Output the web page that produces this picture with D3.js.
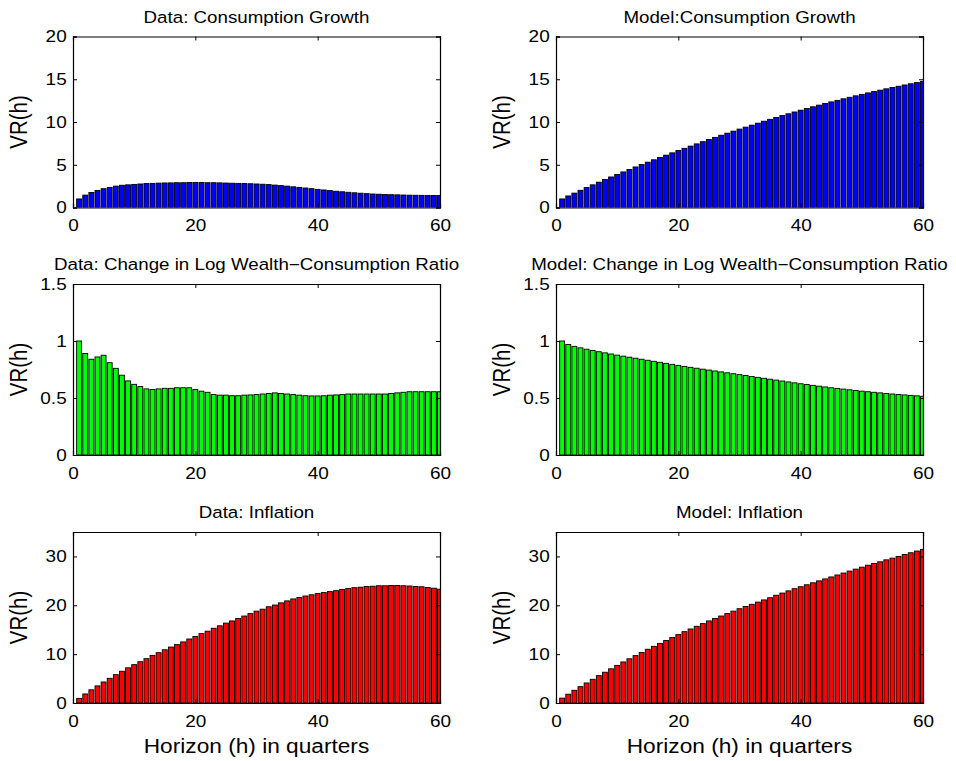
<!DOCTYPE html>
<html>
<head>
<meta charset="utf-8">
<title>Variance ratios</title>
<script src="https://d3js.org/d3.v7.min.js"></script>
<style>
  body { margin: 0; background: #fff; }
  svg text { font-family: "Liberation Sans", Arial, Helvetica, sans-serif; fill: #000; }
  .tick-label { font-size: 16.5px; }
  .title { font-size: 16.3px; text-anchor: middle; }
  .axis-label { font-size: 21px; text-anchor: middle; }
  .y-label { font-size: 20.5px; text-anchor: middle; }
</style>
</head>
<body>
<div id="chart"></div>
<script>
// horizons 1..60 (quarters)
var horizons = d3.range(1, 61);

var dataConsumption = [1.00, 1.45, 1.75, 2.00, 2.20, 2.35, 2.50, 2.60, 2.65, 2.70,
  2.75, 2.80, 2.82, 2.85, 2.87, 2.88, 2.90, 2.90, 2.92, 2.92,
  2.92, 2.90, 2.90, 2.88, 2.86, 2.84, 2.82, 2.80, 2.78, 2.75,
  2.72, 2.68, 2.62, 2.56, 2.50, 2.42, 2.35, 2.28, 2.20, 2.12,
  2.05, 1.98, 1.90, 1.84, 1.78, 1.72, 1.67, 1.62, 1.58, 1.55,
  1.52, 1.50, 1.48, 1.46, 1.44, 1.43, 1.42, 1.41, 1.40, 1.40];

var modelConsumption = [1.00, 1.35, 1.68, 2.01, 2.33, 2.65, 2.96, 3.27, 3.57, 3.87,
  4.16, 4.45, 4.74, 5.02, 5.30, 5.58, 5.85, 6.12, 6.39, 6.66,
  6.92, 7.18, 7.44, 7.70, 7.95, 8.20, 8.45, 8.69, 8.93, 9.17,
  9.40, 9.63, 9.86, 10.09, 10.31, 10.53, 10.75, 10.96, 11.17, 11.38,
  11.58, 11.78, 11.97, 12.16, 12.35, 12.53, 12.71, 12.89, 13.06, 13.23,
  13.40, 13.56, 13.72, 13.88, 14.03, 14.18, 14.33, 14.47, 14.61, 14.75];

var dataWealth = [1.00, 0.89, 0.84, 0.86, 0.875, 0.81, 0.76, 0.70, 0.65, 0.62,
  0.60, 0.58, 0.575, 0.58, 0.585, 0.585, 0.59, 0.59, 0.59, 0.575,
  0.56, 0.55, 0.53, 0.525, 0.525, 0.52, 0.52, 0.525, 0.527, 0.53,
  0.535, 0.54, 0.545, 0.54, 0.535, 0.53, 0.525, 0.52, 0.518, 0.518,
  0.52, 0.525, 0.527, 0.53, 0.535, 0.535, 0.535, 0.535, 0.535, 0.535,
  0.535, 0.54, 0.545, 0.55, 0.555, 0.555, 0.555, 0.555, 0.555, 0.555];

var modelWealth = [1.00, 0.97, 0.953, 0.94, 0.928, 0.917, 0.906, 0.896, 0.886, 0.876,
  0.867, 0.858, 0.849, 0.84, 0.831, 0.822, 0.813, 0.804, 0.795, 0.786,
  0.777, 0.769, 0.761, 0.753, 0.745, 0.737, 0.729, 0.721, 0.713, 0.705,
  0.697, 0.689, 0.681, 0.673, 0.665, 0.657, 0.649, 0.641, 0.633, 0.625,
  0.618, 0.611, 0.604, 0.597, 0.590, 0.584, 0.578, 0.572, 0.566, 0.560,
  0.555, 0.550, 0.545, 0.540, 0.535, 0.531, 0.527, 0.523, 0.519, 0.515];

var dataInflation = [0.95, 1.85, 2.7, 3.5, 4.3, 5.05, 5.8, 6.5, 7.2, 7.85,
  8.45, 9.07, 9.75, 10.3, 10.9, 11.45, 11.95, 12.5, 13.1, 13.6,
  14.2, 14.7, 15.3, 15.8, 16.35, 16.8, 17.3, 17.8, 18.3, 18.8,
  19.2, 19.7, 20.05, 20.5, 20.9, 21.3, 21.6, 21.9, 22.15, 22.4,
  22.6, 22.8, 23.0, 23.25, 23.45, 23.6, 23.7, 23.85, 23.9, 24.0,
  24.0, 24.05, 24.05, 24.0, 23.95, 23.85, 23.8, 23.65, 23.5, 23.3];

var modelInflation = [1.0, 1.8, 2.6, 3.35, 4.1, 4.85, 5.6, 6.3, 7.0, 7.7,
  8.4, 9.05, 9.7, 10.35, 11.0, 11.6, 12.2, 12.8, 13.4, 14.0,
  14.6, 15.15, 15.7, 16.25, 16.8, 17.3, 17.8, 18.3, 18.8, 19.3,
  19.75, 20.2, 20.65, 21.1, 21.55, 22.05, 22.5, 22.95, 23.4, 23.8,
  24.2, 24.6, 25.0, 25.4, 25.8, 26.2, 26.6, 27.0, 27.4, 27.8,
  28.2, 28.55, 28.9, 29.3, 29.65, 30.0, 30.4, 30.75, 31.1, 31.45];

var titles = ["Data: Consumption Growth", "Model:Consumption Growth",
  "Data: Change in Log Wealth\u2212Consumption Ratio", "Model: Change in Log Wealth\u2212Consumption Ratio",
  "Data: Inflation", "Model: Inflation"];
var series = [dataConsumption, modelConsumption, dataWealth, modelWealth, dataInflation, modelInflation];
var yMax = [20, 20, 1.5, 1.5, 35, 35];
var yTicks = [[0, 5, 10, 15, 20], [0, 5, 10, 15, 20], [0, 0.5, 1, 1.5], [0, 0.5, 1, 1.5],
  [0, 10, 20, 30], [0, 10, 20, 30]];
var xTicks = [0, 20, 40, 60];
var colors = ["#0000ff", "#0000ff", "#00ff00", "#00ff00", "#ff0000", "#ff0000"];

var W = 956, H = 761;
var colX = [73, 556], rowY = [36.5, 284, 532];
var pw = 367, ph = 171, tickLen = 4;
var sx = 1.15; // the original figure text is a bit wider than Arial

var svg = d3.select("#chart").append("svg")
  .attr("width", W).attr("height", H);

series.forEach(function(vals, i) {
  var col = i % 2, row = Math.floor(i / 2);
  var g = svg.append("g")
    .attr("transform", "translate(" + colX[col] + "," + rowY[row] + ")");

  var x = d3.scaleLinear().domain([0, 60]).range([0, pw]);
  var y = d3.scaleLinear().domain([0, yMax[i]]).range([ph, 0]);
  var bw = x(0.8) - x(0);

  g.append("clipPath").attr("id", "clip" + i)
    .append("rect").attr("width", pw).attr("height", ph);

  g.append("g").attr("clip-path", "url(#clip" + i + ")")
    .selectAll("rect")
    .data(horizons)
    .enter().append("rect")
      .attr("x", function(h) { return x(h) - bw / 2; })
      .attr("y", function(h, j) { return y(vals[j]); })
      .attr("width", bw)
      .attr("height", function(h, j) { return ph - y(vals[j]); })
      .attr("fill", colors[i])
      .attr("stroke", "#000")
      .attr("stroke-width", 0.9);

  // axes with inward ticks on all four sides
  var fmt = function(d) { return d3.format("~g")(d); };
  g.append("g").attr("transform", "translate(0," + ph + ")")
    .call(d3.axisBottom(x).tickValues(xTicks).tickSize(-tickLen).tickPadding(12).tickFormat(fmt));
  g.append("g")
    .call(d3.axisTop(x).tickValues(xTicks).tickSize(-tickLen).tickFormat(""));
  g.append("g")
    .call(d3.axisLeft(y).tickValues(yTicks[i]).tickSize(-tickLen).tickPadding(5.5).tickFormat(fmt));
  g.append("g").attr("transform", "translate(" + pw + ",0)")
    .call(d3.axisRight(y).tickValues(yTicks[i]).tickSize(-tickLen).tickFormat(""));

  g.selectAll(".domain").attr("stroke", "#000").attr("stroke-width", 1.2);
  g.selectAll(".tick line").attr("stroke", "#000");
  g.selectAll(".tick text").attr("class", "tick-label").attr("font-size", null)
    .attr("font-family", null)
    .attr("transform", "scale(" + sx + ",1)");

  g.append("text").attr("class", "title")
    .attr("transform", "translate(" + (pw / 2) + "," + (-14) + ") scale(" + sx + ",1)")
    .text(titles[i]);

  g.append("text").attr("class", "y-label")
    .attr("transform", "translate(" + (-46) + "," + (ph / 2) + ") scale(" + sx + ",1) rotate(-90)")
    .text("VR(h)");

  if (row === 2) {
    g.append("text").attr("class", "axis-label")
      .attr("transform", "translate(" + (pw / 2) + "," + (ph + 50) + ") scale(1.08,1)")
      .text("Horizon (h) in quarters");
  }
});
</script>
</body>
</html>
